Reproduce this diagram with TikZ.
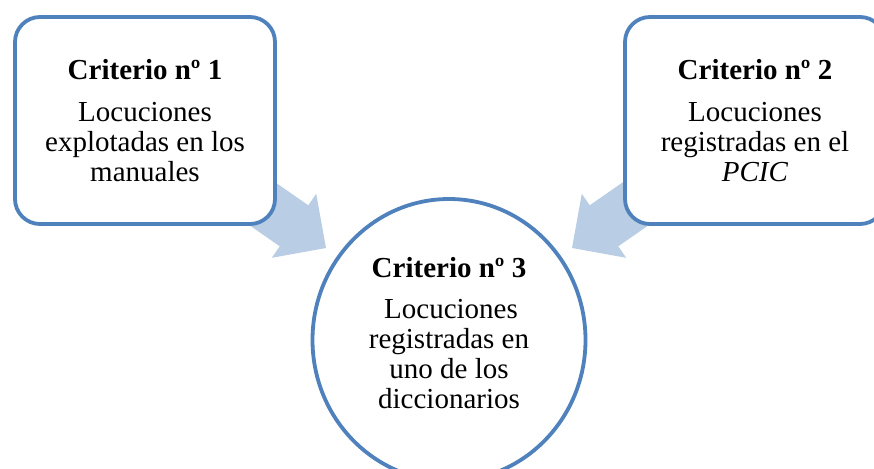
\documentclass[tikz,border=0pt]{standalone}
\usepackage{fontspec}
\setmainfont{Liberation Serif}
\usetikzlibrary{shapes.geometric}
\definecolor{bordercol}{RGB}{79,129,189}
\definecolor{arrowcol}{RGB}{185,205,229}
\tikzset{
  critbox/.style={draw=bordercol, line width=3.8pt, fill=white, rounded corners=25pt,
    minimum width=260pt, minimum height=207pt, inner sep=0pt, align=center,
    font=\fontsize{29}{30}\selectfont},
  critcircle/.style={draw=bordercol, line width=3.8pt, fill=white, ellipse,
    minimum width=273pt, minimum height=282pt, inner sep=0pt},
  crittext/.style={align=center, inner sep=0pt, font=\fontsize{29}{30}\selectfont},
  blockarrow/.style={fill=arrowcol, draw=none}
}
\begin{document}
\begin{tikzpicture}[x=1pt,y=-1pt]
\clip (0,0) rectangle (874,468);
\fill[white] (0,0) rectangle (874,468);
% block arrows (behind the shapes)
\fill[blockarrow] (209.85,136.9) -- (308.3,205.3) -- (316.2,193.8) -- (326,248)
  -- (271.8,257.8) -- (279.75,246.3) -- (181.35,177.9) -- cycle;
\fill[blockarrow] (688.15,136.9) -- (589.7,205.3) -- (581.8,193.8) -- (572,248)
  -- (626.2,257.8) -- (618.25,246.3) -- (716.65,177.9) -- cycle;
% boxes
\node[critbox] (b1) at (145,120.5) {\textbf{Criterio nº 1}\\[11.5pt]Locuciones\\explotadas en los\\manuales};
\node[critbox] (b2) at (755,120.5) {\textbf{Criterio nº 2}\\[11.5pt]Locuciones\\registradas en el\\\textit{PCIC}};
\node[critcircle] (c3) at (449,340) {};
\node[crittext] (t3) at (449,333) {\textbf{Criterio nº 3}\\[11pt]\hspace*{4pt}Locuciones\\registradas en\\uno de los\\diccionarios};
\end{tikzpicture}
\end{document}
